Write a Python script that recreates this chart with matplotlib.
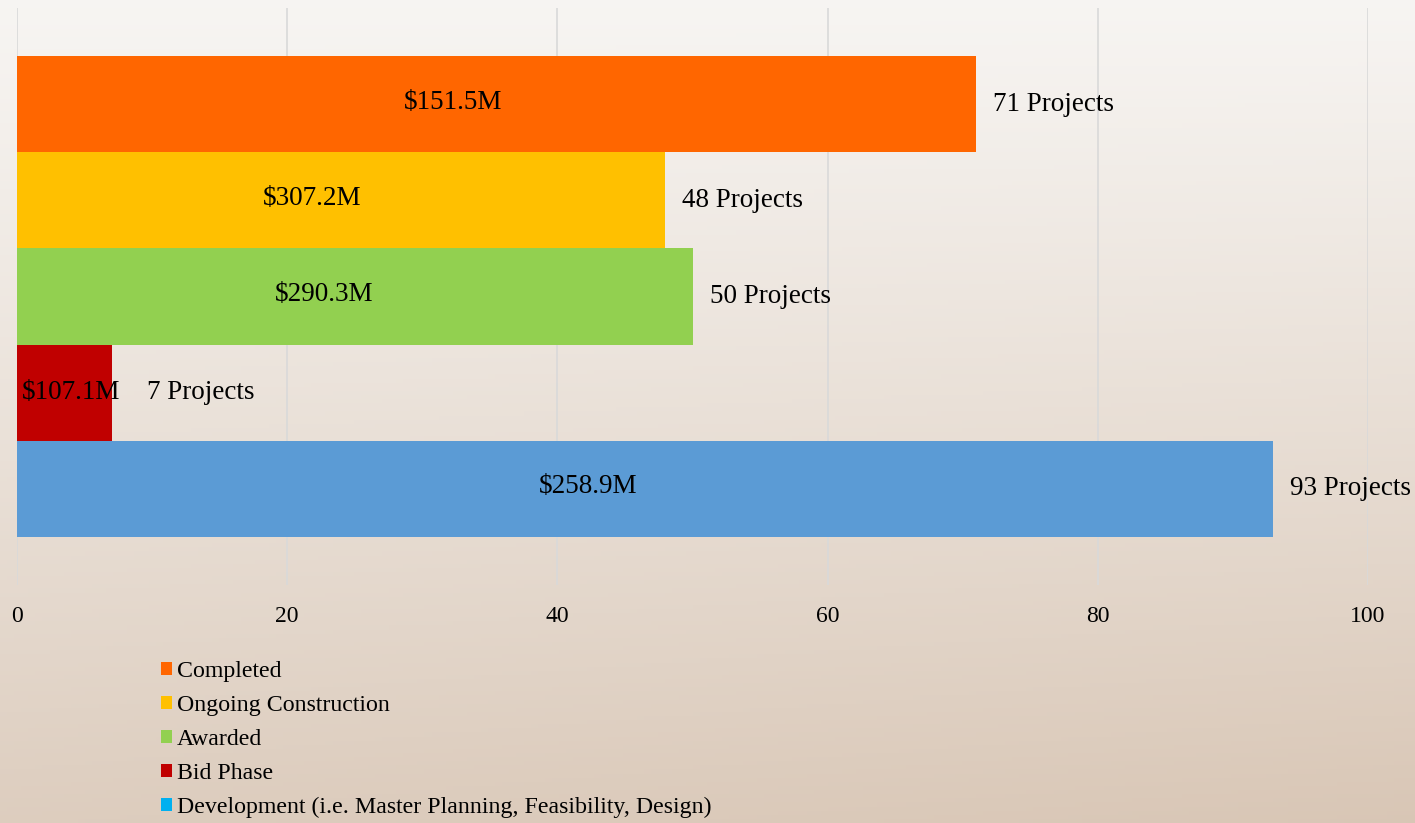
import matplotlib
matplotlib.use("Agg")
import matplotlib.pyplot as plt
import numpy as np
from matplotlib.patches import Patch

categories = ["Completed", "Ongoing Construction", "Awarded", "Bid Phase",
              "Development (i.e. Master Planning, Feasibility, Design)"]
projects = [71, 48, 50, 7, 93]
values_label = ["$151.5M", "$307.2M", "$290.3M", "$107.1M", "$258.9M"]
bar_colors = ["#ff6600", "#ffc000", "#92d050", "#c00000", "#5b9bd5"]
legend_colors = ["#ff6600", "#ffc000", "#92d050", "#c00000", "#00b0f0"]
xticks = [0, 20, 40, 60, 80, 100]

plt.rcParams['font.family'] = ['Liberation Serif', 'DejaVu Serif']

W, H = 1415, 823
fig = plt.figure(figsize=(W / 100, H / 100), dpi=100)

# background gradient
bg = fig.add_axes([0, 0, 1, 1], zorder=-10)
yy = np.linspace(0, 1, 200)[:, None]
xx = np.linspace(0, 1, 200)[None, :]
top = np.array([0.968, 0.960, 0.950])
bot = np.array([0.850, 0.778, 0.712])
t = np.clip(yy ** 1.1 * 0.85 + xx * 0.15 * yy, 0, 1)
img = top[None, None, :] * (1 - t[..., None]) + bot[None, None, :] * t[..., None]
bg.imshow(img, aspect='auto', extent=[0, 1, 0, 1], origin='upper')
bg.set_axis_off()

ax = fig.add_axes([17 / W, 1 - 585 / H, (1368 - 17) / W, (585 - 8) / H])
ax.patch.set_alpha(0)
y = np.arange(len(categories))
ax.barh(y, projects, height=1.0, color=bar_colors, zorder=3)
ax.set_xlim(0, 100)
ax.set_ylim(4.5 + 0.5, -0.5 - 0.5)
ax.set_xticks(xticks)
ax.set_yticks([])
ax.grid(axis='x', color='#d9d9d9', linewidth=1.2, zorder=0)
for s in ax.spines.values():
    s.set_visible(False)
ax.tick_params(axis='x', length=0, pad=15, labelsize=17)

fs = 19.5
for i, (p, lab) in enumerate(zip(projects, values_label)):
    if p < 15:
        ax.text(0.37, i, lab, ha='left', va='center', fontsize=fs, color='black', zorder=4)
        off = 35
    else:
        ax.text(p * 0.455, i - 0.02, lab, ha='center', va='center', fontsize=fs, color='black', zorder=4)
        off = 17
    ax.annotate(f"{p} Projects", xy=(p, i), xytext=(off, 0), textcoords='offset pixels',
                ha='left', va='center', fontsize=fs, color='black', zorder=4)

handles = [Patch(facecolor=c, edgecolor='none') for c in legend_colors]
fig.legend(handles, categories, loc='upper left', bbox_to_anchor=(161 / W, 1 - 661 / H),
           frameon=False, fontsize=17.2, handlelength=0.48, handleheight=0.48,
           handletextpad=0.2, labelspacing=0.54, borderaxespad=0, borderpad=0)

fig.savefig("out.png", dpi=100)
